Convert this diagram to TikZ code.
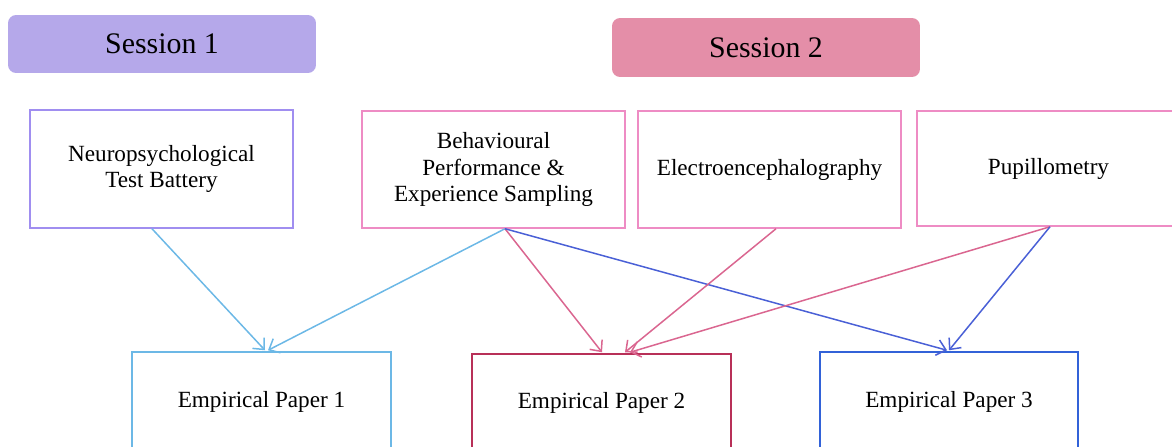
\documentclass[tikz,border=0pt]{standalone}
\usepackage{fontspec}
\setmainfont{Liberation Serif}
\usetikzlibrary{arrows.meta,calc}
\definecolor{sonefill}{HTML}{B5A8EA}
\definecolor{stwofill}{HTML}{E48EA8}
\definecolor{neuline}{HTML}{A08EF0}
\definecolor{pinkline}{HTML}{EE8CC4}
\definecolor{ponecol}{HTML}{6CB8E6}
\definecolor{ptwocol}{HTML}{B83058}
\definecolor{pthreecol}{HTML}{3262D8}
\definecolor{arrpink}{HTML}{DA6690}
\definecolor{arrblue}{HTML}{4A60D6}
\tikzset{
  sessbox/.style={rounded corners=0.16cm, inner sep=0pt, font=\fontsize{17}{20}\selectfont},
  srcbox/.style={draw, line width=0.85pt, align=center, inner sep=0pt, font=\fontsize{13.2}{15}\selectfont},
  paperbox/.style={draw, line width=0.85pt, align=center, inner sep=0pt, font=\fontsize{13.2}{15}\selectfont},
  conn/.style={line width=0.85pt, -{Straight Barb[length=5pt,width=9pt]}}
}
\begin{document}
\begin{tikzpicture}[x=0.02cm,y=-0.02cm]
\useasboundingbox (0,0) rectangle (1172,446);
\clip (0,0) rectangle (1172,446);
% sessions
\node[sessbox, fill=sonefill, minimum width=6.16cm, minimum height=1.16cm] (s1) at (162,44) {Session 1};
\node[sessbox, fill=stwofill, minimum width=6.16cm, minimum height=1.18cm] (s2) at (766,47.5) {Session 2};
% source boxes
\node[srcbox, draw=neuline, minimum width=5.26cm, minimum height=2.36cm] (neu) at (161.5,169) {Neuropsychological\\Test Battery};
\node[srcbox, draw=pinkline, minimum width=5.26cm, minimum height=2.34cm] (beh) at (493.5,169.5) {Behavioural\\Performance \&\\Experience Sampling};
\node[srcbox, draw=pinkline, minimum width=5.26cm, minimum height=2.34cm] (eeg) at (769.5,169.5) {Electroencephalography};
\node[srcbox, draw=pinkline, minimum width=5.26cm, minimum height=2.3cm] (pup) at (1048.5,168.5) {Pupillometry};
% papers
\node[paperbox, draw=ponecol, minimum width=5.18cm, minimum height=2cm] (p1) at (261.5,402) {Empirical Paper 1};
\node[paperbox, draw=ptwocol, minimum width=5.18cm, minimum height=1.96cm] (p2) at (601.5,403) {Empirical Paper 2};
\node[paperbox, draw=pthreecol, minimum width=5.16cm, minimum height=2cm] (p3) at (949,402) {Empirical Paper 3};
% connectors
\draw[conn, ponecol] ($(neu.south)+(-9.5,0)$) -- ($(p1.north)+(3.5,-1)$);
\draw[conn, ponecol] ($(beh.south)+(11.5,0)$) -- ($(p1.north)+(6.5,-1)$);
\draw[conn, arrpink] ($(beh.south)+(11.5,0)$) -- ($(p2.north)+(0.5,-1)$);
\draw[conn, arrblue] ($(beh.south)+(11.5,0)$) -- ($(p3.north)+(-2,-1)$);
\draw[conn, arrpink] ($(eeg.south)+(6.5,0)$) -- ($(p2.north)+(23.5,-1)$);
\draw[conn, arrpink] ($(pup.south)+(1.5,0)$) -- ($(p2.north)+(28.5,-1)$);
\draw[conn, arrblue] ($(pup.south)+(1.5,0)$) -- ($(p3.north)+(0,-1)$);
\end{tikzpicture}
\end{document}
